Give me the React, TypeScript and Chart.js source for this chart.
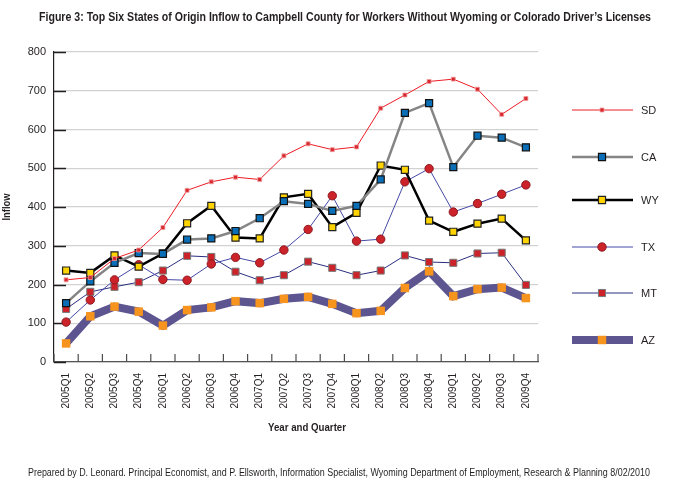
import React, { useEffect, useRef } from 'react';
import { Chart, registerables } from 'chart.js';

Chart.register(...registerables);

// Quarters on the category axis
const quarters = [
  '2005Q1', '2005Q2', '2005Q3', '2005Q4',
  '2006Q1', '2006Q2', '2006Q3', '2006Q4',
  '2007Q1', '2007Q2', '2007Q3', '2007Q4',
  '2008Q1', '2008Q2', '2008Q3', '2008Q4',
  '2009Q1', '2009Q2', '2009Q3', '2009Q4',
];

// Inflow of workers by state of origin
const sdInflow = [212, 218, 267, 289, 347, 443, 465, 477, 471, 532, 563, 548, 555, 655, 689, 724, 730, 704, 639, 680];
const caInflow = [152, 208, 256, 281, 279, 316, 319, 338, 371, 415, 408, 390, 403, 471, 643, 668, 503, 584, 579, 554];
const wyInflow = [236, 230, 275, 246, 280, 358, 403, 321, 319, 425, 434, 348, 385, 507, 496, 365, 336, 357, 370, 314];
const txInflow = [103, 160, 212, 251, 213, 211, 253, 270, 256, 289, 342, 429, 312, 317, 465, 499, 387, 409, 433, 457];
const mtInflow = [137, 181, 194, 206, 236, 274, 271, 233, 211, 224, 259, 243, 224, 236, 275, 258, 256, 280, 282, 199];
const azInflow = [48, 118, 143, 130, 94, 134, 141, 157, 152, 163, 168, 150, 126, 132, 191, 234, 170, 188, 192, 165];

const yTickValues = [0, 100, 200, 300, 400, 500, 600, 700, 800];

const titleText = 'Figure 3: Top Six States of Origin Inflow to Campbell County for Workers Without Wyoming or Colorado Driver\u2019s Licenses';
const xTitleText = 'Year and Quarter';
const yTitleText = 'Inflow';
const footerText = 'Prepared by D. Leonard. Principal Economist, and P. Ellsworth, Information Specialist, Wyoming Department of Employment, Research & Planning 8/02/2010';

const INK = '#231f20';
const SANS = '"Liberation Sans", Arial, sans-serif';

// Draws centred text squeezed horizontally to a given width (condensed face look).
function fitText(
  ctx: CanvasRenderingContext2D,
  text: string,
  font: string,
  cx: number,
  cy: number,
  width: number,
  angle = 0,
) {
  ctx.save();
  ctx.font = font;
  const measured = ctx.measureText(text).width;
  const sx = measured > 0 ? width / measured : 1;
  ctx.translate(cx, cy);
  ctx.rotate(angle);
  ctx.scale(sx, 1);
  ctx.textAlign = 'center';
  ctx.textBaseline = 'middle';
  ctx.fillText(text, 0, 0);
  ctx.restore();
}

function drawMarker(ctx: CanvasRenderingContext2D, ds: any, x: number, y: number) {
  const r = ds.pointRadius as number;
  ctx.save();
  ctx.fillStyle = ds.pointBackgroundColor;
  ctx.strokeStyle = ds.pointBorderColor;
  ctx.lineWidth = ds.pointBorderWidth;
  ctx.beginPath();
  if (ds.pointStyle === 'circle') {
    ctx.arc(x, y, r, 0, Math.PI * 2);
  } else {
    const s = r * Math.SQRT1_2;
    ctx.rect(x - s, y - s, 2 * s, 2 * s);
  }
  ctx.fill();
  if (ds.pointBorderWidth > 0) ctx.stroke();
  ctx.restore();
}

const decorations = {
  id: 'decorations',
  beforeDatasetsDraw(chart: any) {
    const { ctx, chartArea, scales } = chart;
    const x = scales.x;
    const y = scales.y;
    ctx.save();
    // inward tick marks on the value axis
    ctx.strokeStyle = INK;
    ctx.lineWidth = 1.5;
    yTickValues.forEach((v) => {
      const py = Math.round(y.getPixelForValue(v)) + 0.5;
      ctx.beginPath();
      ctx.moveTo(chartArea.left, py);
      ctx.lineTo(chartArea.left + 12, py);
      ctx.stroke();
    });
    // inward tick marks between the quarters
    ctx.strokeStyle = '#4d4d4d';
    ctx.lineWidth = 1.2;
    for (let i = 0; i <= quarters.length; i++) {
      const px = x.getPixelForValue(i - 0.5);
      ctx.beginPath();
      ctx.moveTo(px, chartArea.bottom);
      ctx.lineTo(px, chartArea.bottom - 8);
      ctx.stroke();
    }
    ctx.restore();
  },
  afterDraw(chart: any) {
    const { ctx } = chart;
    ctx.save();
    ctx.fillStyle = INK;

    // title, axis titles and footer
    fitText(ctx, titleText, `bold 12px ${SANS}`, 345, 18, 612);
    fitText(ctx, xTitleText, `bold 10px ${SANS}`, 307, 428, 78);
    fitText(ctx, yTitleText, `bold 10px ${SANS}`, 7, 207, 27, -Math.PI / 2);
    fitText(ctx, footerText, `10px ${SANS}`, 339, 473, 622);

    // legend
    const rows = [110, 157, 200, 247, 293, 340];
    ctx.textAlign = 'left';
    ctx.textBaseline = 'middle';
    ctx.font = `11px ${SANS}`;
    chart.data.datasets.forEach((ds: any, i: number) => {
      const ly = rows[i];
      ctx.save();
      ctx.strokeStyle = ds.borderColor;
      ctx.lineWidth = ds.borderWidth;
      ctx.beginPath();
      ctx.moveTo(572, ly);
      ctx.lineTo(633, ly);
      ctx.stroke();
      ctx.restore();
      drawMarker(ctx, ds, 602, ly);
      ctx.fillStyle = INK;
      ctx.fillText(ds.label, 641, ly + 1);
    });
    ctx.restore();
  },
};

export default function App() {
  const canvasRef = useRef<HTMLCanvasElement | null>(null);

  useEffect(() => {
    document.body.style.margin = '0';
    const canvas = canvasRef.current;
    if (!canvas) return;

    const series = (label: string, data: number[], style: any) => ({
      label,
      data,
      tension: 0,
      fill: false,
      ...style,
    });

    const chart = new Chart(canvas, {
      type: 'line',
      data: {
        labels: quarters,
        datasets: [
          series('SD', sdInflow, {
            borderColor: '#ed1c24', borderWidth: 1,
            pointStyle: 'rect', pointRadius: 2.8,
            pointBackgroundColor: '#d7262e', pointBorderColor: '#f19a9a', pointBorderWidth: 0.8,
          }),
          series('CA', caInflow, {
            borderColor: '#858585', borderWidth: 2.5,
            pointStyle: 'rect', pointRadius: 5,
            pointBackgroundColor: '#0b6fb8', pointBorderColor: '#111111', pointBorderWidth: 1.2,
          }),
          series('WY', wyInflow, {
            borderColor: '#000000', borderWidth: 2.5,
            pointStyle: 'rect', pointRadius: 5,
            pointBackgroundColor: '#ffd400', pointBorderColor: '#222222', pointBorderWidth: 1.2,
          }),
          series('TX', txInflow, {
            borderColor: '#4549a6', borderWidth: 1,
            pointStyle: 'circle', pointRadius: 4.2,
            pointBackgroundColor: '#cc2229', pointBorderColor: '#8e1a20', pointBorderWidth: 1,
          }),
          series('MT', mtInflow, {
            borderColor: '#2b2e80', borderWidth: 1,
            pointStyle: 'rect', pointRadius: 5,
            pointBackgroundColor: '#cc2229', pointBorderColor: '#7a7a7a', pointBorderWidth: 1,
          }),
          series('AZ', azInflow, {
            borderColor: '#5c5590', borderWidth: 8,
            pointStyle: 'rect', pointRadius: 6,
            pointBackgroundColor: '#f7941d', pointBorderColor: '#f7941d', pointBorderWidth: 0,
          }),
        ],
      },
      options: {
        responsive: false,
        devicePixelRatio: 1,
        animation: false,
        layout: { padding: { top: 52, right: 138, bottom: 0, left: 0 } },
        plugins: {
          legend: { display: false },
          tooltip: { enabled: false },
          title: { display: false },
        },
        scales: {
          x: {
            type: 'category',
            offset: true,
            grid: { display: true, drawOnChartArea: false, drawTicks: false },
            border: { display: true, color: '#555555', width: 1.2 },
            ticks: {
              autoSkip: false,
              maxRotation: 90,
              minRotation: 90,
              padding: 11,
              color: INK,
              font: { family: SANS, size: 10 },
            },
            afterFit: (scale: any) => { scale.height = 125; },
          },
          y: {
            min: 0,
            max: 800,
            ticks: {
              stepSize: 100,
              padding: 8,
              color: INK,
              font: { family: SANS, size: 11 },
            },
            grid: { color: '#d2d2d2', lineWidth: 1.2, drawTicks: false },
            border: { display: true, color: INK, width: 1.2 },
            afterFit: (scale: any) => { scale.width = 54; },
          },
        },
      },
      plugins: [decorations],
    });

    return () => chart.destroy();
  }, []);

  return (
    <div style={{ width: 676, height: 487, background: '#ffffff' }}>
      <canvas ref={canvasRef} width={676} height={487} style={{ display: 'block' }} />
    </div>
  );
}
